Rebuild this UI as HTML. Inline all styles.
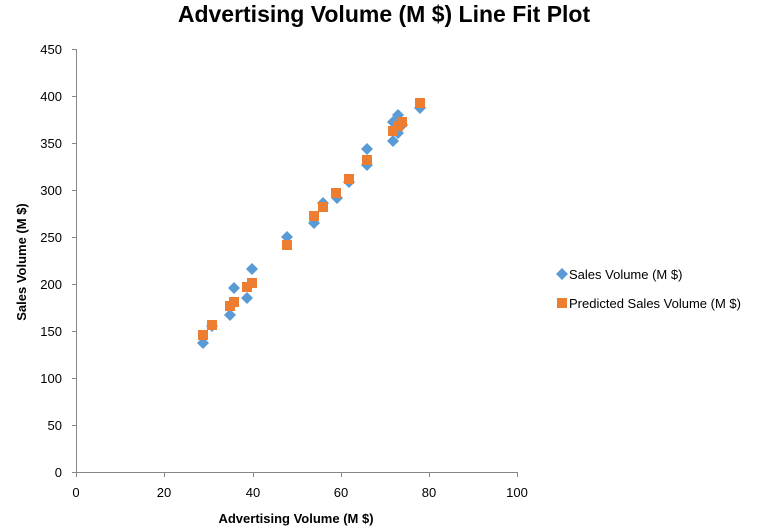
<!DOCTYPE html>
<html><head><style>body{margin:0;background:#fff}svg{display:block}</style></head><body>
<svg width="769" height="532" viewBox="0 0 769 532" xmlns="http://www.w3.org/2000/svg" font-family="Liberation Sans, sans-serif">
<rect width="769" height="532" fill="#fff"/>
<text x="384" y="22" text-anchor="middle" font-size="23" font-weight="bold" fill="#000">Advertising Volume (M $) Line Fit  Plot</text>
<g stroke="#868686" stroke-width="1" fill="none">
<path d="M76.5 49V472.5H517"/>
<path d="M72 49.5H76M72 96.5H76M72 143.5H76M72 190.5H76M72 237.5H76M72 284.5H76M72 331.5H76M72 378.5H76M72 425.5H76M72 472.5H76"/>
<path d="M76.5 472V477M164.5 472V477M253.5 472V477M341.5 472V477M429.5 472V477M517.5 472V477"/>
</g>
<g font-size="13" fill="#000" text-anchor="end">
<text x="62" y="54">450</text><text x="62" y="101">400</text><text x="62" y="148">350</text><text x="62" y="195">300</text><text x="62" y="242">250</text><text x="62" y="289">200</text><text x="62" y="336">150</text><text x="62" y="383">100</text><text x="62" y="430">50</text><text x="62" y="477">0</text>
</g>
<g font-size="13" fill="#000" text-anchor="middle">
<text x="76" y="497">0</text><text x="164" y="497">20</text><text x="253" y="497">40</text><text x="341" y="497">60</text><text x="429" y="497">80</text><text x="517" y="497">100</text>
</g>
<text x="296" y="523" text-anchor="middle" font-size="13" font-weight="bold">Advertising Volume (M $)</text>
<text transform="translate(26 262) rotate(-90)" text-anchor="middle" font-size="13" font-weight="bold">Sales Volume (M $)</text>
<defs>
<path id="d" d="M0 -6L6 0L0 6L-6 0Z" fill="#5b9bd5"/>
<rect id="s" x="-5" y="-5" width="10" height="10" fill="#ed7d31"/>
</defs>
<g>
<use href="#d" x="203" y="343"/><use href="#d" x="212" y="326"/><use href="#d" x="230" y="315"/><use href="#d" x="234" y="288"/><use href="#d" x="247" y="298"/><use href="#d" x="252" y="269"/><use href="#d" x="287" y="237"/><use href="#d" x="314" y="223"/><use href="#d" x="323" y="203"/><use href="#d" x="337" y="198"/><use href="#d" x="349" y="182"/><use href="#d" x="367" y="149"/><use href="#d" x="367" y="165"/><use href="#d" x="393" y="141"/><use href="#d" x="393" y="122"/><use href="#d" x="398" y="115"/><use href="#d" x="398" y="133"/><use href="#d" x="402" y="125"/><use href="#d" x="420" y="108"/>
</g>
<g>
<use href="#s" x="203" y="335"/><use href="#s" x="212" y="325"/><use href="#s" x="230" y="306"/><use href="#s" x="234" y="302"/><use href="#s" x="247" y="287"/><use href="#s" x="252" y="283"/><use href="#s" x="287" y="245"/><use href="#s" x="314" y="216"/><use href="#s" x="323" y="207"/><use href="#s" x="336" y="193"/><use href="#s" x="349" y="179"/><use href="#s" x="367" y="160"/><use href="#s" x="393" y="131"/><use href="#s" x="398" y="126"/><use href="#s" x="402" y="122"/><use href="#s" x="420" y="103"/>
</g>
<use href="#d" x="562" y="274"/>
<text x="569" y="279" font-size="13">Sales Volume (M $)</text>
<use href="#s" x="562" y="303"/>
<text x="569" y="308" font-size="13">Predicted Sales Volume (M $)</text>
</svg>
</body></html>
